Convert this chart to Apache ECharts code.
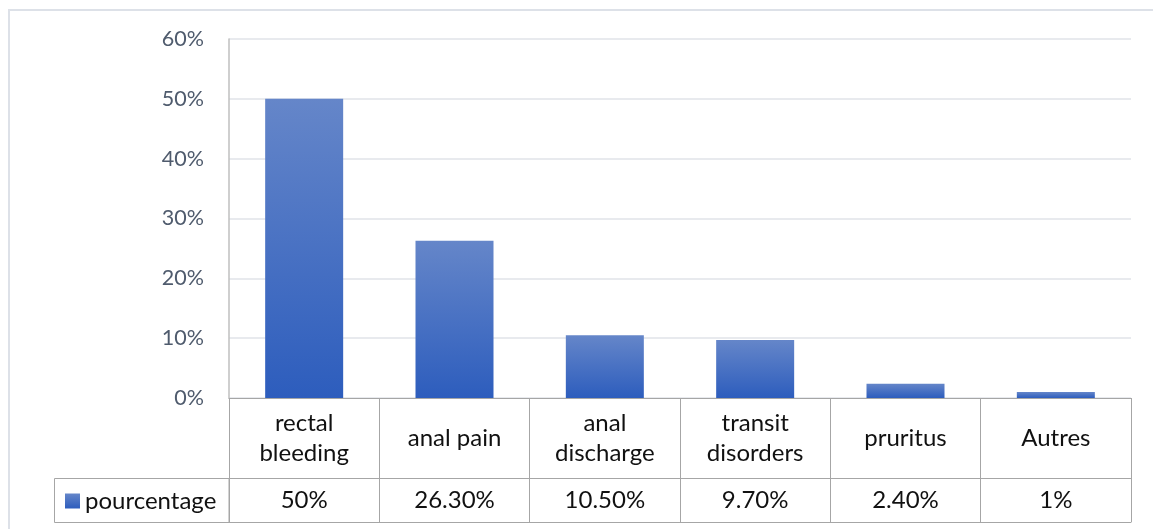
<!DOCTYPE html>
<html><head><meta charset="utf-8">
<script src="https://cdn.jsdelivr.net/npm/echarts@6/dist/echarts.min.js"></script>
<style>html,body{margin:0;padding:0;background:#fff}#c{width:1153px;height:529px}</style>
</head><body><div id="c"></div>
<script>
const categories = ["rectal\nbleeding", "anal pain", "anal\ndischarge", "transit\ndisorders", "pruritus", "Autres"];
const values = [50, 26.3, 10.5, 9.7, 2.4, 1];
const valueLabels = ["50%", "26.30%", "10.50%", "9.70%", "2.40%", "1%"];
const seriesName = "pourcentage";
const yTicks = [0, 10, 20, 30, 40, 50, 60];

const FONT = "Lato";
const TABLE_LINE = "#a6a6a6";
const chart = echarts.init(document.getElementById('c'), null, {renderer: 'canvas'});
chart.setOption({
  animation: false,
  textStyle: {fontFamily: FONT},
  grid: {left: 229, right: 22, top: 39, bottom: 131},
  legend: {
    data: [seriesName], left: 60, top: 484, itemWidth: 15, itemHeight: 15, itemGap: 5,
    icon: 'rect',
    textStyle: {fontFamily: FONT, fontSize: 24, color: '#111', padding: [0, 0, 0, 0]}
  },
  xAxis: [
    {type: 'category', data: categories, position: 'bottom',
     axisLine: {show: true, lineStyle: {color: TABLE_LINE, width: 1}},
     axisTick: {show: true, length: 80, lineStyle: {color: TABLE_LINE, width: 1}},
     axisLabel: {fontFamily: FONT, fontSize: 24, color: '#111', lineHeight: 30, margin: 40, verticalAlign: 'middle', interval: 0}},
    {type: 'category', data: categories, position: 'bottom', offset: 80,
     axisLine: {show: true, lineStyle: {color: TABLE_LINE, width: 1}},
     axisTick: {show: true, length: 44, lineStyle: {color: TABLE_LINE, width: 1}},
     axisLabel: {fontFamily: FONT, fontSize: 24, color: '#111', margin: 22, verticalAlign: 'middle', interval: 0,
       formatter: (v, i) => valueLabels[i]}},
    {type: 'category', data: categories, position: 'bottom', offset: 124,
     axisLine: {show: true, lineStyle: {color: TABLE_LINE, width: 1}},
     axisTick: {show: false}, axisLabel: {show: false}}
  ],
  yAxis: {
    type: 'value', min: yTicks[0], max: yTicks[yTicks.length - 1], interval: 10,
    axisLine: {show: true, lineStyle: {color: '#bfbfbf', width: 1.5}},
    axisTick: {show: false},
    splitLine: {show: true, lineStyle: {color: '#e0e3e8', width: 1.5}},
    axisLabel: {fontFamily: FONT, fontSize: 21.5, color: '#4f5b6d', margin: 25, formatter: '{value}%'}
  },
  series: [{
    name: seriesName, type: 'bar', xAxisIndex: 0, data: values, barWidth: 78,
    itemStyle: {color: new echarts.graphic.LinearGradient(0, 0, 0, 1, [
      {offset: 0, color: '#6586c9'}, {offset: 1, color: '#2d5dbd'}])}
  }],
  graphic: [
    {type: 'rect', shape: {x: 9, y: 10, width: 1170, height: 540}, style: {fill: 'none', stroke: '#dde1e8', lineWidth: 2}, silent: true, z: -1},
    {type: 'rect', shape: {x: 54.5, y: 478.5, width: 174.5, height: 44}, style: {fill: 'none', stroke: TABLE_LINE, lineWidth: 1}, silent: true}
  ]
});
</script></body></html>
